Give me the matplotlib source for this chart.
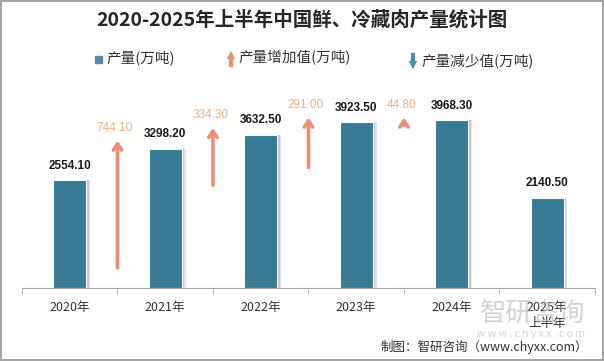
# 2020-2025年上半年中国鲜、冷藏肉产量统计图

import matplotlib.pyplot as plt
from matplotlib.patches import FancyArrowPatch

plt.rcParams['font.family'] = ['Noto Sans CJK SC', 'DejaVu Sans']

years = ['2020年', '2021年', '2022年', '2023年', '2024年', '2025年\n上半年']
output = [2554.10, 3298.20, 3632.50, 3923.50, 3968.30, 2140.50]
increase = [744.10, 334.30, 291.00, 44.80]
arrow_tops = [3490, 3790, 4035, 4035]   # upper end of the increase arrows

bar_color = '#367A93'
up_color = '#F08C74'
up_text = '#F4B07A'
down_color = '#4E8CA8'

fig = plt.figure(figsize=(6.04, 3.61), dpi=100)
fig.patch.set_edgecolor('#A6A6A6')
fig.patch.set_linewidth(1.5)
ax = fig.add_axes([0.0364, 0.2014, 0.9486, 0.5861])

x = list(range(len(years)))
w = 0.345
# soft shadow behind bars
ax.bar([i + 0.04 for i in x], output, width=w, color='#E3E3E3', zorder=1)
ax.bar([i + 0.025 for i in x], output, width=w, color='#C9C9C9', zorder=1)
ax.bar(x, output, width=w, color=bar_color, edgecolor='white', linewidth=0.8, zorder=2)

for i, v in enumerate(output):
    ax.annotate(f'{v:.2f}', (i, v), xytext=(0, 6), textcoords='offset points',
                ha='center', va='bottom', fontsize=8.5, fontweight='bold',
                family='Liberation Sans', color='#1a1a1a')

# increase arrows between bars, length proportional to the increase
k = 4.04
for i, inc in enumerate(increase):
    xa = i + 0.5
    top = arrow_tops[i]
    ax.annotate('', xy=(xa, top), xytext=(xa, top - k * inc),
                arrowprops=dict(arrowstyle='->,head_length=0.45,head_width=0.3',
                                color=up_color, lw=2.6, shrinkA=0, shrinkB=0),
                zorder=3)
    ax.annotate(f'{inc:.2f}', (xa, top), xytext=(-2, 5), textcoords='offset points',
                ha='center', va='bottom', fontsize=8.5, family='Liberation Sans',
                color=up_text)

ax.set_xlim(-0.5, len(years) - 0.5)
ax.set_ylim(0, 5000)
ax.set_yticks([])
ax.set_xticks(x)
ax.set_xticklabels(years, fontsize=9, color='#333333', linespacing=1.3)
ax.tick_params(axis='x', which='major', length=0, pad=9)
ax.set_xticks([i - 0.5 for i in range(len(years) + 1)], minor=True)
ax.tick_params(axis='x', which='minor', length=4, color='#A6A6A6')
for s in ['top', 'right', 'left']:
    ax.spines[s].set_visible(False)
ax.spines['bottom'].set_color('#A6A6A6')

# title
fig.text(0.5, 1 - 20 / 361, '2020-2025年上半年中国鲜、冷藏肉产量统计图', ha='center', va='center',
         fontsize=14, fontweight='bold', color='#262626')

# legend
ly = 1 - 58 / 361
fig.patches.append(plt.Rectangle((95 / 604, ly - 0.013), 7 / 604, 7 / 361,
                                 transform=fig.transFigure, color='#4A8FA8'))
fig.text(106 / 604, ly, '产量(万吨)', va='center', fontsize=10.5, color='#333333')
fig.patches.append(FancyArrowPatch((231 / 604, 1 - 70 / 361), (231 / 604, 1 - 48 / 361),
                                   transform=fig.transFigure, color=up_color, lw=0,
                                   arrowstyle='simple,head_length=0.6,head_width=0.6,tail_width=0.3',
                                   mutation_scale=10))
fig.text(238 / 604, ly, '产量增加值(万吨)', va='center', fontsize=10.5, color='#333333')
fig.patches.append(FancyArrowPatch((413 / 604, 1 - 50 / 361), (413 / 604, 1 - 72 / 361),
                                   transform=fig.transFigure, color=down_color, lw=0,
                                   arrowstyle='simple,head_length=0.6,head_width=0.6,tail_width=0.3',
                                   mutation_scale=10))
fig.text(421 / 604, 1 - 61 / 361, '产量减少值(万吨)', va='center', fontsize=10.5, color='#333333')

# watermark and source
fig.text(585 / 604, 1 - 313 / 361, '智研咨询', ha='right', va='center', fontsize=19,
         color='#B0B0B0', alpha=0.55)
fig.text(585 / 604, 1 - 334 / 361, 'w w w . c h y x x . c o m', ha='right', va='center',
         fontsize=7.5, color='#B0B0B0', alpha=0.55)
fig.text(588 / 604, 1 - 347 / 361, '制图：智研咨询（www.chyxx.com）', ha='right', va='center',
         fontsize=9, color='#333333')

fig.savefig('out.png', dpi=100)
